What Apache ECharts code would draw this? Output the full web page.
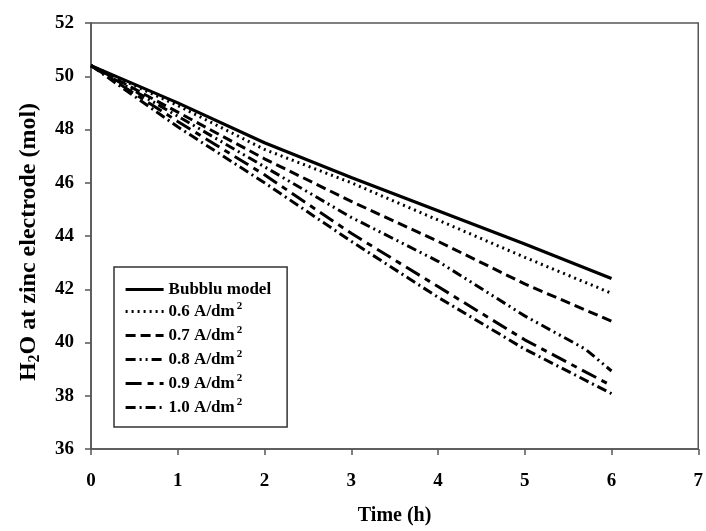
<!DOCTYPE html>
<html>
<head>
<meta charset="utf-8">
<script src="https://cdn.jsdelivr.net/npm/echarts@6/dist/echarts.min.js"></script>
<style>
  html, body { margin: 0; padding: 0; background: #fff; }
  #chart { width: 706px; height: 531px; }
</style>
</head>
<body>
<div id="chart"></div>
<script>
// Time axis (hours)
const hours = [0, 1, 2, 3, 4, 5, 6];

// Water amount at the zinc electrode (mol) per series
const bubbluModel = [50.4, 49.0, 47.5, 46.2, 44.95, 43.7, 42.4];
const cd06 = [50.4, 48.9, 47.25, 46.0, 44.6, 43.2, 41.85];
const cd07 = [50.4, 48.65, 46.9, 45.3, 43.8, 42.2, 40.8];
const cd08Hours = [0, 1, 2, 3, 4, 5, 5.7, 6];
const cd08 = [50.4, 48.5, 46.6, 44.7, 43.05, 41.0, 39.75, 38.93];
const cd09 = [50.4, 48.3, 46.3, 44.1, 42.1, 40.1, 38.38];
const cd10 = [50.4, 48.1, 46.0, 43.8, 41.7, 39.75, 38.08];

const seriesNames = ['Bubblu model', '0.6 A/dm2', '0.7 A/dm2', '0.8 A/dm2', '0.9 A/dm2', '1.0 A/dm2'];

function pairs(xs, ys) { return xs.map((x, i) => [x, ys[i]]); }

const dashes = [
  'solid',
  [2, 4],
  [10, 5],
  [10, 4, 2, 4, 2, 4],
  [16, 6, 6, 6],
  [10, 4, 2, 4]
];
const dataSets = [
  pairs(hours, bubbluModel),
  pairs(hours, cd06),
  pairs(hours, cd07),
  pairs(cd08Hours, cd08),
  pairs(hours, cd09),
  pairs(hours, cd10)
];

const serif = '"Liberation Serif", "Times New Roman", serif';

const chart = echarts.init(document.getElementById('chart'), null, { renderer: 'canvas' });
chart.setOption({
  animation: false,
  backgroundColor: '#fff',
  grid: {
    left: 91, right: 1, top: 23, bottom: 77,
    show: true, borderColor: '#555', borderWidth: 1.5, backgroundColor: 'transparent'
  },
  xAxis: {
    type: 'value', min: 0, max: 7, interval: 1,
    name: 'Time (h)', nameLocation: 'middle', nameGap: 57,
    nameTextStyle: { fontFamily: serif, fontWeight: 'bold', fontSize: 20, color: '#000' },
    axisLine: { lineStyle: { color: '#555', width: 1.5 } },
    axisTick: { inside: false, length: 6, lineStyle: { color: '#555', width: 1.5 } },
    axisLabel: { margin: 23, fontFamily: serif, fontWeight: 'bold', fontSize: 19, color: '#000' },
    splitLine: { show: false }
  },
  yAxis: {
    type: 'value', min: 36, max: 52, interval: 2,
    name: 'H{sub|2}O at zinc electrode (mol)', nameLocation: 'middle', nameGap: 48, nameRotate: 90,
    nameTextStyle: {
      fontFamily: serif, fontWeight: 'bold', fontSize: 24, color: '#000',
      padding: [0, 12, 0, 0],
      rich: { sub: { fontFamily: serif, fontWeight: 'bold', fontSize: 16, color: '#000', padding: [12, 0, 0, 0] } }
    },
    axisLine: { lineStyle: { color: '#555', width: 1.5 } },
    axisTick: { inside: false, length: 6, lineStyle: { color: '#555', width: 1.5 } },
    axisLabel: { margin: 17, fontFamily: serif, fontWeight: 'bold', fontSize: 19, color: '#000' },
    splitLine: { show: false }
  },
  legend: {
    orient: 'vertical', left: 114, top: 267,
    data: seriesNames,
    itemWidth: 38, itemHeight: 16, itemGap: 3,
    padding: [14, 16, 9, 10],
    borderColor: '#333', borderWidth: 1.5, backgroundColor: '#fff',
    itemStyle: { opacity: 0 },
    lineStyle: { width: 3.2 },
    formatter: function (name) {
      if (name.endsWith('dm2')) return name.slice(0, -1) + '{sup|2}';
      return name;
    },
    textStyle: {
      fontFamily: serif, fontWeight: 'bold', fontSize: 17, color: '#000', lineHeight: 16,
      rich: { sup: { fontFamily: serif, fontWeight: 'bold', fontSize: 11, color: '#000', lineHeight: 16, padding: [0, 0, 10, 2] } }
    }
  },
  series: seriesNames.map((name, i) => ({
    name: name,
    type: 'line',
    data: dataSets[i],
    symbol: 'none',
    smooth: false,
    z: 3,
    lineStyle: { color: '#000', width: i === 0 ? 3.2 : 3, type: dashes[i] },
    itemStyle: { color: '#000' }
  }))
});
</script>
</body>
</html>
